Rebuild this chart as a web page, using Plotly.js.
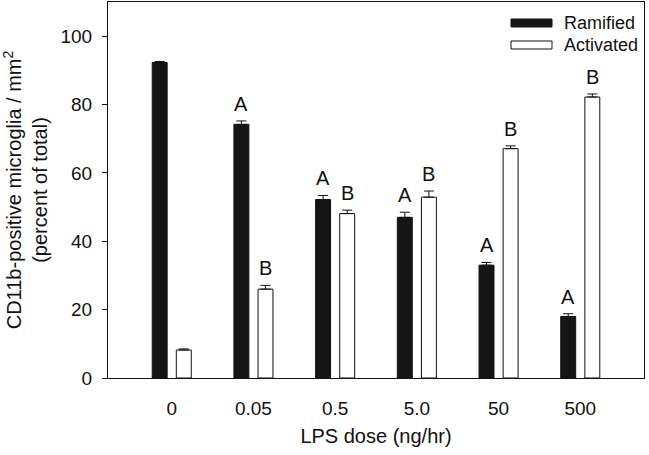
<!DOCTYPE html>
<html>
<head>
<meta charset="utf-8">
<script src="https://cdn.plot.ly/plotly-3.0.1.min.js"></script>
<style>html,body{margin:0;padding:0;background:#fff;}#chart{width:649px;height:455px;}</style>
</head>
<body>
<div id="chart"></div>
<script>
const categories = ['0', '0.05', '0.5', '5.0', '50', '500'];
const seriesNames = ['Ramified', 'Activated'];
const ramified = [92.3, 74.2, 52.2, 47.0, 33.0, 18.0];
const activated = [8.2, 26.0, 48.1, 52.9, 67.1, 82.2];
const ramifiedErr = [0.3, 1.0, 1.2, 1.5, 0.8, 0.8];
const activatedErr = [0.3, 1.1, 1.0, 1.8, 0.8, 0.9];
const ramifiedLetters = ['', 'A', 'A', 'A', 'A', 'A'];
const activatedLetters = ['', 'B', 'B', 'B', 'B', 'B'];
const yTickVals = [0, 20, 40, 60, 80, 100];

const W = 649, H = 455;
const M = {l: 108, r: 5, t: 2, b: 77};
const plotW = W - M.l - M.r, plotH = H - M.t - M.b;
const px2x = px => (px - M.l) / plotW;
const py2y = py => (H - M.b - py) / plotH;

const FONT = 'Arial, "Liberation Sans", Helvetica, sans-serif';
const INK = '#111111';
const bargap = 0.41, bargroupgap = 0.38;
const off = (1 - bargap) / 4;

const errStyle = (arr) => ({
  type: 'data', symmetric: false, array: arr,
  arrayminus: arr.map(() => 0),
  color: INK, thickness: 1, width: 5
});

const traces = [
  {type: 'bar', name: seriesNames[0], x: categories, y: ramified,
   marker: {color: '#151515', line: {color: INK, width: 1}},
   error_y: errStyle(ramifiedErr), showlegend: false, hoverinfo: 'none'},
  {type: 'bar', name: seriesNames[1], x: categories, y: activated,
   marker: {color: '#ffffff', line: {color: INK, width: 1}},
   error_y: errStyle(activatedErr), showlegend: false, hoverinfo: 'none'}
];

const annotations = [];
categories.forEach((c, i) => {
  if (ramifiedLetters[i]) annotations.push({
    x: i - off, y: ramified[i] + ramifiedErr[i], xref: 'x', yref: 'y',
    text: ramifiedLetters[i], showarrow: false, yanchor: 'bottom', yshift: 4,
    font: {family: FONT, size: 20, color: INK}
  });
  if (activatedLetters[i]) annotations.push({
    x: i + off, y: activated[i] + activatedErr[i], xref: 'x', yref: 'y',
    text: activatedLetters[i], showarrow: false, yanchor: 'bottom', yshift: 4,
    font: {family: FONT, size: 20, color: INK}
  });
});

// manual legend (wide swatches like the reference)
const shapes = [];
const legendFills = ['#151515', '#ffffff'];
const legendRowsY = [23, 45];
seriesNames.forEach((n, k) => {
  shapes.push({type: 'rect', xref: 'paper', yref: 'paper',
    x0: px2x(511), x1: px2x(552), y0: py2y(legendRowsY[k] + 4), y1: py2y(legendRowsY[k] - 4),
    fillcolor: legendFills[k], line: {color: INK, width: 1}});
  annotations.push({xref: 'paper', yref: 'paper', x: px2x(562), y: py2y(legendRowsY[k]),
    xanchor: 'left', yanchor: 'middle', showarrow: false, text: n,
    font: {family: FONT, size: 18, color: INK}});
});

const layout = {
  width: W, height: H,
  margin: M,
  paper_bgcolor: '#ffffff', plot_bgcolor: '#ffffff',
  barmode: 'group', bargap: bargap, bargroupgap: bargroupgap,
  font: {family: FONT, color: INK, size: 18},
  xaxis: {
    type: 'category', range: [-0.78, 5.78],
    showline: true, linecolor: INK, linewidth: 1, mirror: true,
    showgrid: false, zeroline: false, ticks: '', ticklabelstandoff: 13,
    tickfont: {family: FONT, size: 19, color: INK},
    title: {text: 'LPS dose (ng/hr)', font: {family: FONT, size: 20, color: INK}, standoff: 11}
  },
  yaxis: {
    range: [0, 110], tickvals: yTickVals,
    showline: true, linecolor: INK, linewidth: 1, mirror: true,
    showgrid: false, zeroline: false, ticks: 'outside', ticklen: 5, tickcolor: INK,
    ticklabelstandoff: 6,
    tickfont: {family: FONT, size: 19, color: INK},
    title: {text: 'CD11b-positive microglia / mm<sup>2</sup><br>(percent of total)',
            font: {family: FONT, size: 20, color: INK}, standoff: 9}
  },
  shapes: shapes,
  annotations: annotations
};

Plotly.newPlot('chart', traces, layout, {staticPlot: true, displayModeBar: false});
</script>
</body>
</html>
